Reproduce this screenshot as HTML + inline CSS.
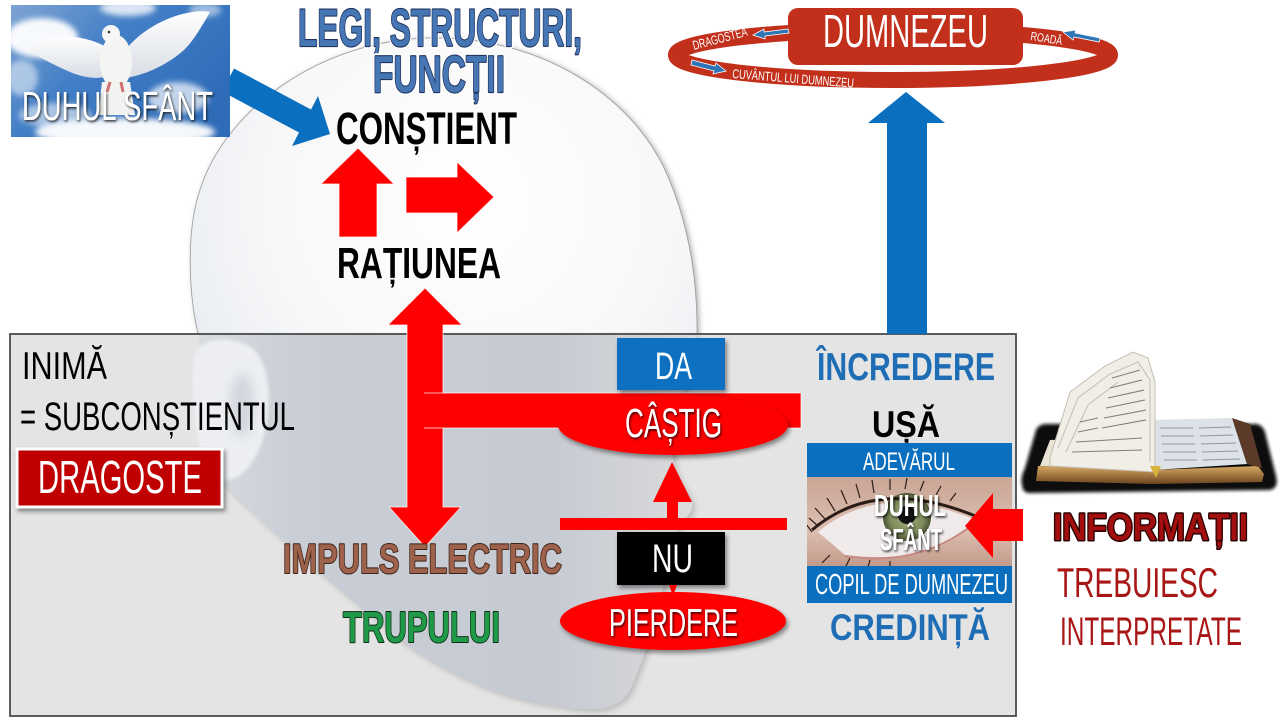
<!DOCTYPE html>
<html><head><meta charset="utf-8"><style>
html,body{margin:0;padding:0;background:#fff;}
svg{display:block}
text{font-family:"Liberation Sans Narrow","Liberation Sans",sans-serif;}
</style></head><body>
<svg width="1280" height="720" viewBox="0 0 1280 720" xmlns="http://www.w3.org/2000/svg">
<defs>
 <radialGradient id="headg" cx="470" cy="200" r="330" gradientUnits="userSpaceOnUse">
  <stop offset="0" stop-color="#ffffff"/>
  <stop offset="0.6" stop-color="#f8f8f9"/>
  <stop offset="0.88" stop-color="#eceff3"/>
  <stop offset="1" stop-color="#e1e6ed"/>
 </radialGradient>
 <linearGradient id="neckg" x1="200" y1="0" x2="700" y2="0" gradientUnits="userSpaceOnUse">
  <stop offset="0" stop-color="#d8dbe0"/>
  <stop offset="0.2" stop-color="#c9cdd5"/>
  <stop offset="0.7" stop-color="#c6cad2"/>
  <stop offset="0.9" stop-color="#d4d5d8"/>
  <stop offset="1" stop-color="#dedede"/>
 </linearGradient>
 <linearGradient id="sky" x1="0" y1="0" x2="1" y2="0.6">
  <stop offset="0" stop-color="#7ea3d3"/>
  <stop offset="0.45" stop-color="#437fc6"/>
  <stop offset="1" stop-color="#2f6cb8"/>
 </linearGradient>
 <linearGradient id="wing" x1="0" y1="0" x2="0" y2="1">
  <stop offset="0" stop-color="#ffffff"/>
  <stop offset="1" stop-color="#d9dee5"/>
 </linearGradient>
 <linearGradient id="skin" x1="0" y1="0" x2="0" y2="1">
  <stop offset="0" stop-color="#c9a595"/>
  <stop offset="0.6" stop-color="#dcbfb1"/>
  <stop offset="1" stop-color="#c29a8a"/>
 </linearGradient>
 <radialGradient id="iris" cx="0.5" cy="0.5" r="0.5">
  <stop offset="0" stop-color="#a3b07e"/>
  <stop offset="0.7" stop-color="#7e8c5c"/>
  <stop offset="1" stop-color="#4a5235"/>
 </radialGradient>
 <linearGradient id="gold" x1="0" y1="0" x2="0" y2="1">
  <stop offset="0" stop-color="#d6a862"/>
  <stop offset="1" stop-color="#6e4620"/>
 </linearGradient>
 <filter id="sh" x="-20%" y="-30%" width="150%" height="180%"><feDropShadow dx="2" dy="3" stdDeviation="2.5" flood-color="#000" flood-opacity="0.45"/></filter>
 <filter id="tsh" x="-10%" y="-30%" width="130%" height="170%"><feDropShadow dx="1" dy="1.5" stdDeviation="1.2" flood-color="#000" flood-opacity="0.8"/></filter>
 <filter id="blur1" x="-20%" y="-20%" width="140%" height="140%"><feGaussianBlur stdDeviation="1.5"/></filter>
 <filter id="blur3" x="-30%" y="-30%" width="160%" height="160%"><feGaussianBlur stdDeviation="3"/></filter>
 <filter id="blur5" x="-50%" y="-50%" width="200%" height="200%"><feGaussianBlur stdDeviation="5"/></filter>
 <clipPath id="doveclip"><rect x="11" y="5" width="219" height="132"/></clipPath>
 <clipPath id="eyeclip"><rect x="807" y="477" width="205" height="89"/></clipPath>
</defs>

<rect width="1280" height="720" fill="#fff"/>

<!-- HEAD -->
<path d="M200,340 C188,300 186,230 200,190 C225,110 320,40 430,38 C540,36 630,95 665,170 C690,225 698,285 697,340 Z" fill="#555" filter="url(#blur3)" opacity="0.5" transform="translate(2,1)"/>
<path d="M200,340 C188,300 186,230 200,190 C225,110 320,40 430,38 C540,36 630,95 665,170 C690,225 698,285 697,340 Z" fill="url(#headg)" stroke="#9a9a9a" stroke-width="0.8"/>

<!-- BLUE DIAGONAL ARROW -->
<polygon points="234,68.5 311,109.5 318,96 330,134 292,146 299,132.5 222,91.5" fill="#0b6fc0"/>

<!-- GRAY BOX -->
<rect x="10" y="334" width="1006" height="382" fill="#e4e4e4"/>
<path d="M200,334 L697,334 C690,380 672,420 673,457 C674,480 695,495 692,508 C688,520 676,525 672,545 C662,600 648,650 630,690 C618,712 590,712 560,706 C500,700 440,670 400,640 C340,590 280,540 230,490 C205,465 195,400 200,334 Z" fill="#777" filter="url(#blur3)" opacity="0.35" transform="translate(3,3)"/>
<path d="M200,334 L697,334 C690,380 672,420 673,457 C674,480 695,495 692,508 C688,520 676,525 672,545 C662,600 648,650 630,690 C618,712 590,712 560,706 C500,700 440,670 400,640 C340,590 280,540 230,490 C205,465 195,400 200,334 Z" fill="url(#neckg)"/>
<!-- ear -->
<path d="M196,352 C204,338 230,334 252,348 C270,364 274,404 262,442 C252,470 236,482 222,480 C205,472 195,440 193,402 C192,378 192,362 196,352 Z" fill="#eceef1" filter="url(#blur1)"/>
<ellipse cx="242" cy="405" rx="12" ry="32" fill="#d3d7de" filter="url(#blur5)"/>
<rect x="10" y="334" width="1006" height="382" fill="none" stroke="#4a4a4a" stroke-width="1.8"/>

<!-- DOVE IMAGE -->
<g clip-path="url(#doveclip)">
 <rect x="11" y="5" width="219" height="132" fill="url(#sky)"/>
 <g filter="url(#blur3)" fill="#ffffff">
  <ellipse cx="42" cy="38" rx="36" ry="20" opacity="0.95"/>
  <ellipse cx="22" cy="78" rx="16" ry="18" opacity="0.5"/>
  <ellipse cx="128" cy="8" rx="28" ry="8" opacity="0.8"/>
  <ellipse cx="205" cy="10" rx="16" ry="7" opacity="0.5"/>
  <ellipse cx="125" cy="132" rx="90" ry="14" opacity="0.95"/>
  <ellipse cx="178" cy="98" rx="30" ry="16" opacity="0.7"/>
  <ellipse cx="55" cy="115" rx="36" ry="12" opacity="0.55"/>
 </g>
 <!-- dove -->
 <path d="M108,48 C92,38 68,34 48,38 C38,40 30,44 26,48 C36,56 52,64 70,72 C82,77 96,80 108,76 Z" fill="url(#wing)"/>
 <path d="M124,52 C134,38 150,26 170,18 C186,12 200,10 210,12 C202,26 194,40 184,50 C168,64 148,74 126,78 Z" fill="url(#wing)"/>
 <ellipse cx="116" cy="62" rx="16" ry="27" fill="#f4f4f2"/>
 <circle cx="111" cy="34" r="9" fill="#f6f6f4"/>
 <path d="M102,82 L130,82 L135,115 L98,115 Z" fill="#f2f2f0"/>
 <circle cx="109" cy="32" r="1.3" fill="#333"/>
 <path d="M110,82 l-3,10 M121,82 l2,10" stroke="#d07070" stroke-width="3"/>
 <text x="22" y="120" font-size="41" fill="#fff" textLength="191" lengthAdjust="spacingAndGlyphs" filter="url(#tsh)">DUHUL SFÂNT</text>
</g>

<!-- TOP TEXTS -->
<g font-weight="bold">
 <text x="298" y="46" font-size="53" textLength="284" lengthAdjust="spacingAndGlyphs" fill="#fff" stroke="#fff" stroke-width="6" stroke-linejoin="round">LEGI, STRUCTURI,</text>
 <text x="298" y="46" font-size="53" textLength="284" lengthAdjust="spacingAndGlyphs" fill="#4676b4" stroke="#1f3460" stroke-width="2.2" paint-order="stroke" stroke-linejoin="round">LEGI, STRUCTURI,</text>
 <text x="373" y="92" font-size="52" textLength="132" lengthAdjust="spacingAndGlyphs" fill="#fff" stroke="#fff" stroke-width="6" stroke-linejoin="round">FUNCȚII</text>
 <text x="373" y="92" font-size="52" textLength="132" lengthAdjust="spacingAndGlyphs" fill="#4676b4" stroke="#1f3460" stroke-width="2.2" paint-order="stroke" stroke-linejoin="round">FUNCȚII</text>
 <text x="336" y="144" font-size="45" textLength="181" lengthAdjust="spacingAndGlyphs" fill="#000">CONȘTIENT</text>
 <text x="337" y="278" font-size="44" textLength="164" lengthAdjust="spacingAndGlyphs" fill="#000">RAȚIUNEA</text>
</g>

<!-- red arrows near CONSTIENT -->
<path d="M358,148 L394,184 L377,184 L377,237 L339,237 L339,184 L321,184 Z" fill="#ff0000" stroke="#fff" stroke-opacity="0.7" stroke-width="1"/>
<path d="M406,177 L457,177 L457,162 L494,197 L457,233 L457,213 L406,213 Z" fill="#ff0000" stroke="#fff" stroke-opacity="0.7" stroke-width="1"/>

<!-- DUMNEZEU -->
<path d="M906,92 L945,123 L927,123 L927,334 L887,334 L887,123 L868,123 Z" fill="#0b6fc0"/>
<ellipse cx="893" cy="55" rx="217" ry="25" fill="none" stroke="#c2301c" stroke-width="16"/>
<rect x="788" y="8" width="235" height="57" rx="10" fill="#c2301c"/>
<text x="823" y="47" font-size="46" fill="#fff" textLength="165" lengthAdjust="spacingAndGlyphs">DUMNEZEU</text>
<text transform="translate(694,50) rotate(-15)" font-size="13" fill="#fff" textLength="56" lengthAdjust="spacingAndGlyphs">DRAGOSTEA</text>
<text transform="translate(732,78) rotate(4.5)" font-size="13" fill="#fff" textLength="122" lengthAdjust="spacingAndGlyphs">CUVÂNTUL LUI DUMNEZEU</text>
<text transform="translate(1030,40) rotate(9)" font-size="12" fill="#fff" textLength="32" lengthAdjust="spacingAndGlyphs">ROADĂ</text>
<path d="M788,29 L764,32 L764,29 L753,35 L765,39 L765,36 L789,33 Z" fill="#2e75b6" stroke="#fff" stroke-width="0.8"/>
<path d="M1100,38 L1075,33 L1076,30 L1063,32 L1073,40 L1074,37 L1099,42 Z" fill="#2e75b6" stroke="#fff" stroke-width="0.8"/>
<path d="M692,60 L715,66 L716,63 L726,71 L713,74 L714,71 L691,65 Z" fill="#2e75b6" stroke="#fff" stroke-width="0.8"/>

<!-- LEFT BOX TEXTS -->
<text x="22" y="379" font-size="39" fill="#000" textLength="85" lengthAdjust="spacingAndGlyphs">INIMĂ</text>
<text x="20" y="430" font-size="40" fill="#000" textLength="275" lengthAdjust="spacingAndGlyphs">= SUBCONȘTIENTUL</text>
<rect x="17" y="449" width="205" height="58" fill="#c00000" stroke="#fff" stroke-width="3" filter="url(#sh)"/>
<text x="38" y="493" font-size="46" fill="#fff" textLength="164" lengthAdjust="spacingAndGlyphs">DRAGOSTE</text>

<!-- T arrow -->
<path d="M425,288 L462,325 L443,325 L443,507 L461,507 L425,547 L389,507 L407,507 L407,325 L388,325 Z" fill="#ff0000" stroke="#fff" stroke-opacity="0.7" stroke-width="1"/>
<rect x="425" y="393" width="376" height="35" fill="#ff0000" stroke="#fff" stroke-opacity="0.7" stroke-width="1"/>
<rect x="408" y="394" width="34" height="33" fill="#ff0000"/>

<!-- DA / CASTIG -->
<rect x="617" y="338" width="108" height="52" fill="#0b6fc0" filter="url(#sh)"/>
<text x="655" y="379" font-size="38" fill="#fff" textLength="37" lengthAdjust="spacingAndGlyphs">DA</text>
<ellipse cx="673" cy="425" rx="115" ry="30" fill="#ff0000" filter="url(#sh)"/>
<text x="625" y="437" font-size="41" fill="#fff" textLength="97" lengthAdjust="spacingAndGlyphs" filter="url(#tsh)">CÂȘTIG</text>

<!-- small up arrow and bar -->
<path d="M672,462 L692,502 L678,502 L678,520 L667,520 L667,502 L653,502 Z" fill="#ff0000"/>
<rect x="560" y="518" width="227" height="12" fill="#ff0000"/>

<!-- NU / PIERDERE -->
<rect x="617" y="532" width="108" height="53" fill="#000" filter="url(#sh)"/>
<text x="652" y="572" font-size="40" fill="#fff" textLength="41" lengthAdjust="spacingAndGlyphs">NU</text>
<path d="M669,585 L677,585 L673,596 Z" fill="#ff0000"/>
<ellipse cx="673" cy="621" rx="113" ry="29" fill="#ff0000" filter="url(#sh)"/>
<text x="609" y="636" font-size="39" fill="#fff" textLength="129" lengthAdjust="spacingAndGlyphs" filter="url(#tsh)">PIERDERE</text>

<!-- IMPULS / TRUPULUI etc -->
<g font-weight="bold">
 <text x="283" y="573" font-size="42" textLength="279" lengthAdjust="spacingAndGlyphs" fill="#9e614b" stroke="#3b2418" stroke-width="2" paint-order="stroke" stroke-linejoin="round">IMPULS ELECTRIC</text>
 <text x="343" y="642" font-size="44" textLength="157" lengthAdjust="spacingAndGlyphs" fill="#1f9a48" stroke="#0c2d14" stroke-width="2" paint-order="stroke" stroke-linejoin="round">TRUPULUI</text>
 <text x="817" y="380" font-size="39" textLength="178" lengthAdjust="spacingAndGlyphs" fill="#1f6eb5">ÎNCREDERE</text>
 <text x="872" y="437" font-size="37" textLength="68" lengthAdjust="spacingAndGlyphs" fill="#000">UȘĂ</text>
 <text x="830" y="640" font-size="37" textLength="160" lengthAdjust="spacingAndGlyphs" fill="#1f6eb5">CREDINȚĂ</text>
</g>

<!-- EYE BLOCK -->
<rect x="807" y="443" width="205" height="34" fill="#0b6fc0"/>
<text x="863" y="470" font-size="25" fill="#fff" textLength="92" lengthAdjust="spacingAndGlyphs">ADEVĂRUL</text>
<g clip-path="url(#eyeclip)">
 <rect x="807" y="477" width="205" height="89" fill="url(#skin)"/>
 <path d="M818,532 Q880,480 976,520 Q935,566 845,555 Z" fill="#f0eaea"/>
 <circle cx="907" cy="517" r="24" fill="url(#iris)"/>
 <circle cx="907" cy="515" r="9" fill="#121212"/>
 <path d="M812,530 Q878,474 980,518" fill="none" stroke="#2a1c17" stroke-width="3"/>
 <g stroke="#2a1c17" stroke-width="1.2" fill="none">
  <path d="M812,532 l-6,-8 M818,526 l-9,-8 M825,519 l-10,-11 M835,511 l-8,-13 M847,504 l-6,-14 M860,498 l-4,-14 M874,493 l-2,-13 M890,490 l0,-11 M905,489 l2,-11 M920,491 l4,-10 M936,495 l5,-9 M950,501 l6,-8"/>
  <path d="M830,555 l-8,8 M850,558 l-4,8 M870,560 l-2,7 M890,561 l0,6"/>
 </g>
 <path d="M845,556 Q920,568 976,522" fill="none" stroke="#c88a84" stroke-width="2"/>
</g>
<rect x="807" y="566" width="205" height="37" fill="#0b6fc0"/>
<text x="815" y="594" font-size="29" fill="#fff" textLength="193" lengthAdjust="spacingAndGlyphs">COPIL DE DUMNEZEU</text>
<g font-weight="bold" filter="url(#tsh)">
 <text x="874" y="516" font-size="31" fill="#fff" textLength="72" lengthAdjust="spacingAndGlyphs">DUHUL</text>
 <text x="880" y="550" font-size="31" fill="#fff" textLength="62" lengthAdjust="spacingAndGlyphs">SFÂNT</text>
</g>

<!-- red left arrow -->
<path d="M965,526 L993,493 L993,509 L1023,509 L1023,541 L993,541 L993,558 Z" fill="#ff0000"/>

<!-- BOOK -->
<g>
 <path d="M1022,484 Q1020,478 1025,468 L1036,430 Q1039,424 1046,424 L1255,424 Q1262,424 1265,432 L1276,476 Q1279,488 1270,490 L1030,493 Q1022,493 1022,484 Z" fill="#0e0e0e" filter="url(#blur1)"/>
 <path d="M1040,466 L1050,440 L1150,436 L1152,470 Z" fill="#e9e3d4"/>
 <path d="M1038,466 L1152,470 L1258,466 L1264,474 L1262,482 L1152,484 L1036,481 Z" fill="url(#gold)"/>
 <path d="M1150,420 L1232,418 L1247,464 L1154,470 Z" fill="#dde2e8"/>
 <path d="M1232,418 L1250,424 L1262,468 L1247,464 Z" fill="#5b3a2a"/>
 <g stroke="#8e959d" stroke-width="1.1">
  <path d="M1160,428 L1193,428 M1199,428 L1231,427 M1161,436 L1194,436 M1200,436 L1233,435 M1162,444 L1195,444 M1201,444 L1236,443 M1163,452 L1196,452 M1202,452 L1238,451 M1164,460 L1197,460 M1203,460 L1240,459"/>
 </g>
 <path d="M1050,458 L1070,392 L1105,366 L1133,352 L1148,358 L1155,382 L1155,472 L1050,466 Z" fill="#f1eee7" stroke="#c4beb0" stroke-width="1"/>
 <path d="M1058,448 L1078,398 L1110,374 L1138,362 L1150,380 L1150,462" fill="none" stroke="#c4beb0" stroke-width="1"/>
 <path d="M1066,452 L1088,405 L1118,382" fill="none" stroke="#c4beb0" stroke-width="1"/>
 <g stroke="#7f7f7f" stroke-width="1.1">
  <path d="M1112,378 L1140,370 M1110,388 L1142,380 M1108,398 L1144,390 M1106,408 L1145,400 M1104,418 L1146,410 M1102,428 L1146,420 M1080,422 L1098,418 M1078,432 L1098,428 M1076,442 L1142,438 M1072,452 L1142,450"/>
 </g>
 <path d="M1150,466 L1156,478 L1161,466 Z" fill="#d9b23a"/>
</g>

<!-- INFORMATII -->
<text x="1053" y="540" font-size="38" font-weight="bold" textLength="195" lengthAdjust="spacingAndGlyphs" fill="#a30f0f" stroke="#2a0000" stroke-width="3" paint-order="stroke" stroke-linejoin="round">INFORMAȚII</text>
<text x="1057" y="597" font-size="42" textLength="161" lengthAdjust="spacingAndGlyphs" fill="#a81616">TREBUIESC</text>
<text x="1060" y="645" font-size="40" textLength="182" lengthAdjust="spacingAndGlyphs" fill="#a81616">INTERPRETATE</text>

</svg>
</body></html>
